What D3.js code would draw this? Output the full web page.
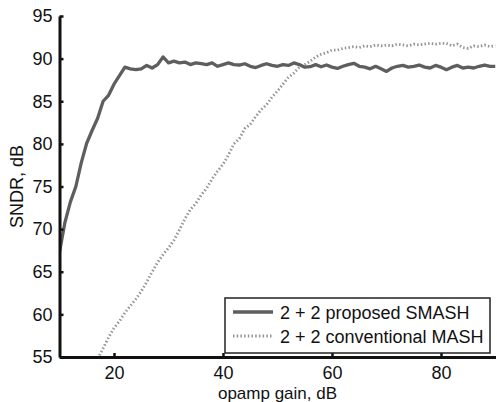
<!DOCTYPE html>
<html>
<head>
<meta charset="utf-8">
<script src="https://cdn.jsdelivr.net/npm/d3@7"></script>
<style>
  html, body { margin: 0; padding: 0; background: #fff; }
  svg { display: block; }
</style>
</head>
<body>
<div id="chart"></div>
<script>
const FONT = "'Liberation Sans', Arial, Helvetica, sans-serif";
const SOLID = '#5e5e5e';
const DOTTED = '#959595';

// opamp gain (dB), 1 dB steps
const smashGain = d3.range(10, 91);
const smashSndr = [
  67.3, 70.8, 73.2, 75.0, 77.8, 80.1, 81.6, 83.0, 85.0, 85.7,
  87.0, 88.0, 89.0, 88.8, 88.7, 88.8, 89.2, 88.9, 89.3, 90.2,
  89.5, 89.7, 89.5, 89.6, 89.3, 89.5, 89.4, 89.3, 89.5, 89.1,
  89.3, 89.5, 89.3, 89.25, 89.4, 89.1, 88.95, 89.2, 89.4, 89.2,
  89.1, 89.3, 89.2, 89.5, 89.3, 89.0, 89.05, 89.3, 89.05, 89.25,
  89.0, 88.85, 89.1, 89.3, 89.45, 89.1, 89.0, 88.8, 89.1, 88.8,
  88.5, 88.9, 89.1, 89.2, 89.0, 89.1, 89.25, 89.0, 88.9, 89.2,
  89.0, 88.7, 89.0, 89.2, 88.9, 89.0, 88.9, 89.1, 89.25, 89.1,
  89.1
];

const mashGain = d3.range(17, 91);
const mashSndr = [
  54.8, 56.0, 57.3, 58.4, 59.2, 60.2, 61.0, 61.8, 62.7, 63.8,
  65.0, 66.1, 67.0, 67.8, 68.7, 69.9, 71.2, 72.3, 73.0, 74.0,
  74.8, 75.9, 76.8, 77.6, 78.7, 80.0, 80.6, 81.8, 82.3, 83.2,
  84.0, 84.6, 85.5, 86.2, 87.0, 87.8, 88.3, 89.0, 89.3, 89.7,
  90.2, 90.5, 90.7, 91.0, 91.0, 91.2, 91.3, 91.4, 91.3, 91.5,
  91.4, 91.6, 91.5, 91.6, 91.5, 91.7, 91.6, 91.5, 91.7, 91.6,
  91.7, 91.8, 91.7, 91.8, 91.8, 91.5, 91.7, 91.3, 91.2, 91.5,
  91.4, 91.6, 91.4, 91.5
];

const xTicks = [20, 40, 60, 80];
const yTicks = [55, 60, 65, 70, 75, 80, 85, 90, 95];
const legendLabels = ['2 + 2 proposed SMASH', '2 + 2 conventional MASH'];

const W = 497, H = 402;
const margin = { top: 16, right: 1.5, bottom: 45, left: 59.5 };
const width = W - margin.left - margin.right;
const height = H - margin.top - margin.bottom;

const svg = d3.select('#chart').append('svg')
  .attr('width', W).attr('height', H)
  .style('font-family', FONT);

svg.append('defs').append('clipPath').attr('id', 'plotclip')
  .append('rect').attr('width', width).attr('height', height);

const g = svg.append('g').attr('transform', `translate(${margin.left},${margin.top})`);

const x = d3.scaleLinear().domain([10, 90]).range([0, width]);
const y = d3.scaleLinear().domain([55, 95]).range([height, 0]);

const line = (xs, ys) => d3.line()
  .x((d, i) => x(xs[i]))
  .y(d => y(d))(ys);

const plot = g.append('g').attr('clip-path', 'url(#plotclip)');

plot.append('path')
  .attr('d', line(mashGain, mashSndr))
  .attr('fill', 'none')
  .attr('stroke', DOTTED)
  .attr('stroke-width', 2.8)
  .attr('stroke-dasharray', '1.5,2.2');

plot.append('path')
  .attr('d', line(smashGain, smashSndr))
  .attr('fill', 'none')
  .attr('stroke', SOLID)
  .attr('stroke-width', 3.3)
  .attr('stroke-linejoin', 'round');

// Axes (ticks inward)
const xAxis = g.append('g')
  .attr('transform', `translate(0,${height})`)
  .call(d3.axisBottom(x).tickValues(xTicks).tickSizeInner(-4).tickSizeOuter(0).tickPadding(9));
const yAxis = g.append('g')
  .call(d3.axisLeft(y).tickValues(yTicks).tickSizeInner(-4).tickSizeOuter(0).tickPadding(7));

[xAxis, yAxis].forEach(a => {
  a.select('.domain').attr('stroke', '#111').attr('stroke-width', 3);
  a.selectAll('.tick line').attr('stroke', '#111').attr('stroke-width', 2.5);
  a.selectAll('text')
    .style('font-family', FONT)
    .style('font-size', '18px')
    .attr('fill', '#111');
});

// Axis labels
g.append('text')
  .attr('x', width / 2)
  .attr('y', height + 41.5)
  .attr('text-anchor', 'middle')
  .style('font-size', '17px')
  .attr('fill', '#111')
  .text('opamp gain, dB');

g.append('text')
  .attr('transform', 'rotate(-90)')
  .attr('x', -height / 2)
  .attr('y', -37)
  .attr('text-anchor', 'middle')
  .style('font-size', '18px')
  .attr('fill', '#111')
  .text('SNDR, dB');

// Legend
const lg = svg.append('g').attr('transform', 'translate(225,298)');
lg.append('rect')
  .attr('width', 265).attr('height', 55)
  .attr('fill', '#fff')
  .attr('stroke', '#222')
  .attr('stroke-width', 1.5);

const styles = [
  { color: SOLID, width: 3.3, dash: null },
  { color: DOTTED, width: 2.8, dash: '1.5,2.2' }
];
legendLabels.forEach((label, i) => {
  const yy = 14 + i * 24;
  const ln = lg.append('line')
    .attr('x1', 8).attr('x2', 48)
    .attr('y1', yy).attr('y2', yy)
    .attr('stroke', styles[i].color)
    .attr('stroke-width', styles[i].width);
  if (styles[i].dash) ln.attr('stroke-dasharray', styles[i].dash);
  lg.append('text')
    .attr('x', 55)
    .attr('y', yy + 6.5)
    .style('font-size', '18px')
    .attr('fill', '#111')
    .text(label);
});
</script>
</body>
</html>
